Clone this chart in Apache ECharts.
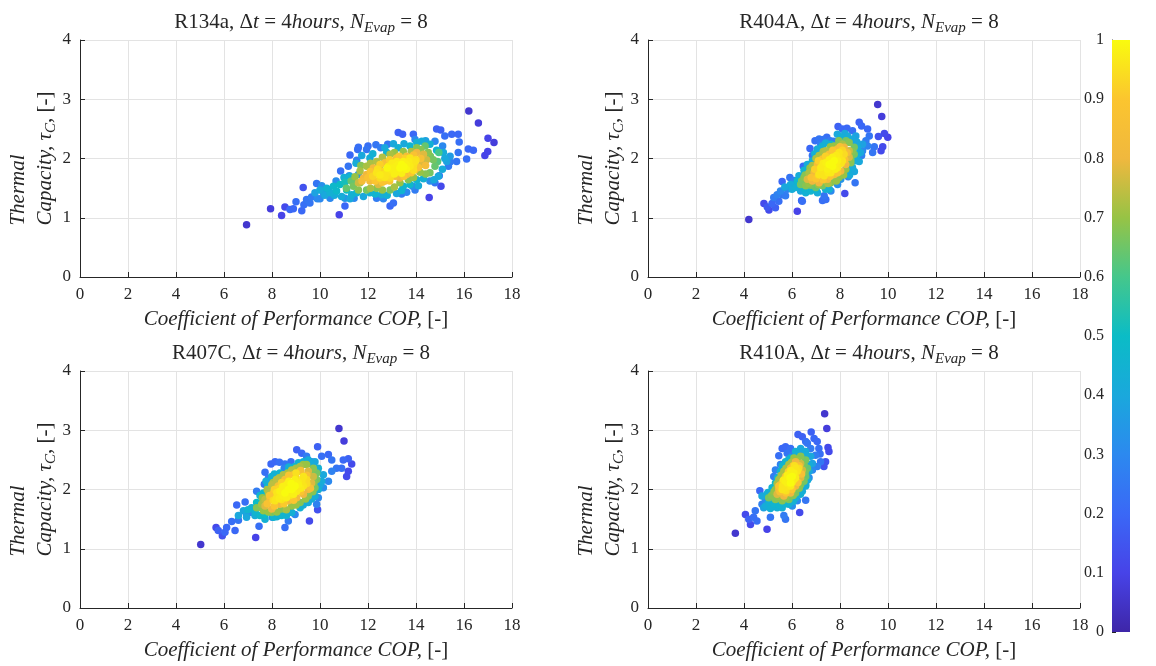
<!DOCTYPE html>
<html>
<head>
<meta charset="utf-8">
<title>COP vs thermal capacity</title>
<script src="https://cdn.jsdelivr.net/npm/echarts@6/dist/echarts.min.js"></script>
<style>
  html, body { margin: 0; padding: 0; background: #fff; }
  #chart { width: 1156px; height: 666px; }
</style>
</head>
<body>
<div id="chart"></div>
<script>
// [COP, tau_C, normalised density]
const r134a = [
  [6.94,0.88,0.06],[7.94,1.15,0.08],[8.40,1.04,0.1],[8.54,1.18,0.12],[10.80,1.05,0.1],[16.20,2.80,0.06],
  [16.60,2.60,0.08],[14.55,1.34,0.1],[15.04,1.53,0.12],[17.25,2.27,0.08],[17.00,2.34,0.1],[16.87,2.05,0.1],
  [16.99,2.12,0.1],[9.30,1.51,0.14],
  [8.75,1.14,0.2],[8.89,1.15,0.2],[9.00,1.27,0.22],[9.24,1.12,0.2],[9.33,1.22,0.22],[9.44,1.31,0.24],
  [9.58,1.25,0.24],[9.65,1.35,0.26],[9.86,1.58,0.24],[11.04,1.20,0.2],[11.18,1.87,0.24],[11.25,2.06,0.2],
  [11.57,2.15,0.22],[11.60,2.19,0.22],[11.94,2.15,0.24],[12.00,2.21,0.22],[12.33,2.23,0.24],[12.53,2.18,0.26],
  [12.82,2.24,0.24],[13.26,2.44,0.18],[13.44,2.41,0.18],[13.89,2.41,0.2],[14.86,2.50,0.18],[15.03,2.48,0.18],
  [15.20,2.38,0.22],[15.49,2.41,0.2],[15.76,2.41,0.2],[15.80,2.28,0.22],[16.18,2.16,0.2],[16.39,2.14,0.2],
  [16.11,1.99,0.22],[15.76,2.10,0.24],[15.69,1.95,0.24],[15.42,1.94,0.26],[15.35,1.87,0.26],[14.97,1.71,0.26],
  [14.79,1.59,0.24],[13.96,1.47,0.26],[13.40,1.40,0.26],[12.92,1.20,0.2],[13.06,1.25,0.22],[12.36,1.33,0.26],
  [11.42,1.33,0.3],[10.86,1.79,0.22],[11.53,1.97,0.26],
  [9.89,1.32,0.3],[10.00,1.32,0.3],[10.07,1.54,0.32],[10.14,1.42,0.34],[10.35,1.46,0.36],[10.42,1.33,0.3],
  [10.67,1.62,0.32],[13.96,2.32,0.3],[15.28,1.98,0.3],[15.11,2.21,0.3],[14.79,2.29,0.3],[14.58,1.62,0.32],
  [13.86,1.53,0.32],[13.61,1.43,0.3],[12.64,1.32,0.3],[11.04,1.33,0.34],[11.22,1.71,0.32],[11.60,1.73,0.34],
  [9.79,1.42,0.38],[10.00,1.47,0.42],[10.28,1.50,0.46],[10.42,1.42,0.44],[10.56,1.53,0.48],[10.69,1.45,0.48],
  [10.90,1.36,0.42],[11.11,1.47,0.5],[11.32,1.39,0.44],[11.53,1.42,0.46],[11.81,1.36,0.4],[12.08,1.42,0.44],
  [12.57,1.39,0.42],[13.19,1.41,0.4],[13.47,1.53,0.46],[13.75,1.56,0.48],[14.03,1.64,0.46],[14.31,1.66,0.44],
  [14.75,1.64,0.4],[14.93,1.70,0.4],[15.28,1.95,0.38],[15.42,2.04,0.36],[15.14,2.10,0.42],[14.86,2.14,0.46],
  [14.58,2.24,0.44],[14.24,2.29,0.42],[14.03,2.27,0.44],[13.75,2.21,0.46],[13.26,2.18,0.44],[13.06,2.25,0.4],
  [12.78,2.10,0.46],[12.08,2.01,0.42],[11.74,2.05,0.4],[11.25,1.69,0.46],[11.39,1.64,0.5],[10.83,1.56,0.5],
  [11.04,1.60,0.52],
  [10.20,1.38,0.4],[10.60,1.38,0.42],[11.25,1.32,0.4],[12.30,1.40,0.46],[12.80,1.38,0.44],[13.40,1.46,0.46],
  [14.10,1.54,0.42],[15.10,1.82,0.42],[15.20,2.00,0.4],[14.40,2.30,0.38],[13.50,2.25,0.4],[12.70,2.18,0.4],
  [12.20,2.08,0.44],[11.50,1.92,0.42],[11.00,1.68,0.44],
  [11.39,1.53,0.66],[11.67,1.59,0.7],[11.94,1.47,0.66],[12.36,1.50,0.68],[12.92,1.47,0.66],[13.33,1.59,0.7],
  [13.68,1.64,0.68],[14.17,1.77,0.7],[14.58,1.76,0.66],[14.79,1.87,0.64],[14.72,1.98,0.66],[14.51,2.10,0.68],
  [14.38,2.21,0.64],[14.03,2.18,0.68],[13.47,2.12,0.7],[12.92,2.07,0.72],[12.36,1.95,0.73],[11.94,1.87,0.72],
  [11.67,1.79,0.72],[11.46,1.69,0.7],[12.50,1.87,0.74],
  [11.10,1.50,0.64],[11.60,1.47,0.68],[12.10,1.50,0.72],[12.60,1.47,0.7],[13.10,1.52,0.72],[13.90,1.68,0.7],
  [14.40,1.74,0.68],[14.90,1.95,0.62],[14.60,2.04,0.66],[14.20,2.15,0.68],[13.80,2.12,0.72],[13.10,2.10,0.7],
  [12.60,2.02,0.73],[12.10,1.92,0.72],[11.70,1.88,0.68],[11.30,1.62,0.64],[14.95,2.10,0.6],
  [11.60,1.59,0.76],[11.81,1.67,0.8],[12.08,1.62,0.82],[12.22,1.73,0.84],[12.43,1.56,0.78],[12.71,1.62,0.82],
  [12.78,1.79,0.86],[13.13,1.70,0.84],[13.33,1.67,0.8],[13.61,1.73,0.82],[13.96,1.81,0.8],[14.24,1.90,0.78],
  [14.44,1.98,0.76],[14.31,2.07,0.78],[14.03,2.10,0.8],[13.61,2.04,0.84],[13.19,2.01,0.86],[12.71,1.93,0.86],
  [12.22,1.84,0.82],[11.94,1.73,0.8],
  [12.00,1.68,0.88],[12.30,1.62,0.9],[12.60,1.60,0.89],[12.90,1.62,0.9],[13.50,1.70,0.9],[13.80,1.76,0.9],
  [14.10,1.85,0.88],[14.20,2.00,0.86],[13.90,2.06,0.88],[13.30,2.04,0.9],[12.90,1.98,0.92],[12.50,1.90,0.92],
  [12.10,1.78,0.9],[11.75,1.62,0.84],[14.40,1.88,0.84],
  [12.36,1.76,0.96],[12.64,1.73,0.96],[12.85,1.87,0.97],[13.06,1.81,0.98],[13.26,1.90,0.98],[13.47,1.81,0.97],
  [13.75,1.87,0.97],[13.96,1.95,0.96],[13.75,2.01,0.96],[13.47,1.95,0.98],[12.50,1.67,0.94],[12.92,1.67,0.94],
  [13.19,1.87,0.98],[13.40,1.90,1.0],[13.61,1.90,0.98],[13.82,1.93,0.96],[13.13,1.79,0.98],[13.33,1.84,1.0],
  [12.99,1.84,0.98],[12.78,1.76,0.96],
  [13.00,1.80,0.97],[13.50,1.86,1.0],[13.70,1.95,0.97],[12.90,1.72,0.95],[13.30,1.78,0.97],[13.90,1.88,0.95],
  [12.60,1.78,0.93],[13.55,2.00,0.92],
  [12.50,1.72,0.97],[12.70,1.68,0.96],[13.10,1.74,0.98],[13.40,1.75,0.98],[13.20,1.95,0.97],[13.00,1.92,0.97],
  [12.80,1.84,0.99],[13.60,1.82,0.99],[14.00,1.98,0.95],[13.90,1.80,0.95],[12.40,1.82,0.95],[12.20,1.70,0.93]
];

const r404a = [
  [4.20,0.97,0.06],[9.57,2.91,0.06],[9.74,2.71,0.08],[4.83,1.24,0.12],[5.04,1.13,0.12],[6.22,1.11,0.1],
  [8.20,1.41,0.12],[9.85,2.42,0.12],[9.99,2.36,0.1],[9.78,2.20,0.12],[9.71,2.13,0.12],[9.60,2.37,0.14],
  [5.17,1.24,0.2],[5.31,1.17,0.18],[4.97,1.18,0.16],[5.45,1.28,0.22],[5.59,1.61,0.2],[5.59,1.39,0.24],
  [5.73,1.37,0.26],[5.80,1.48,0.28],[5.91,1.68,0.24],[6.08,1.63,0.28],[6.40,1.29,0.2],[6.47,1.87,0.2],
  [6.75,2.17,0.2],[6.85,2.05,0.24],[6.96,2.30,0.22],[7.13,2.33,0.24],[7.31,2.32,0.24],[7.45,2.36,0.22],
  [7.59,2.30,0.26],[7.20,2.24,0.26],[7.73,2.29,0.26],[7.92,2.54,0.18],[8.10,2.50,0.2],[8.29,2.51,0.2],
  [8.52,2.47,0.22],[8.80,2.61,0.18],[8.90,2.55,0.2],[9.15,2.50,0.2],[9.22,2.38,0.24],[9.08,2.30,0.26],
  [9.43,2.20,0.24],[9.36,2.10,0.24],[9.15,2.21,0.28],[8.94,2.13,0.3],[8.90,2.05,0.28],[8.59,2.30,0.3],
  [8.63,1.59,0.24],[7.62,1.45,0.3],[7.34,1.37,0.24],[7.41,1.31,0.22],[7.27,1.29,0.22],[6.43,1.28,0.22],
  [7.90,1.56,0.32],[8.03,1.65,0.34],[8.34,1.69,0.3],[8.10,1.73,0.36],[5.38,1.39,0.28],[5.52,1.45,0.3],
  [5.24,1.34,0.26],
  [5.94,1.56,0.42],[6.15,1.51,0.44],[6.29,1.71,0.42],[6.36,1.45,0.4],[6.57,1.42,0.44],[6.78,1.45,0.46],
  [7.06,1.42,0.42],[7.55,1.48,0.44],[7.82,1.65,0.46],[8.31,1.79,0.44],[8.52,1.85,0.42],[8.66,1.96,0.42],
  [8.73,2.07,0.44],[8.73,2.19,0.42],[8.52,2.33,0.4],[8.31,2.38,0.42],[8.03,2.36,0.44],[7.89,2.41,0.4],
  [7.62,2.24,0.46],[7.27,2.21,0.44],[7.06,2.16,0.42],[6.85,1.96,0.44],[6.64,1.90,0.42],[6.64,1.79,0.46],
  [6.43,1.59,0.5],[6.22,1.62,0.48],[8.94,2.24,0.38],[8.66,2.38,0.38],
  [5.70,1.52,0.4],[6.00,1.48,0.42],[6.50,1.50,0.46],[7.00,1.48,0.46],[7.40,1.48,0.44],[8.40,1.72,0.42],
  [8.60,1.78,0.4],[8.80,1.95,0.4],[8.85,2.10,0.4],[8.70,2.28,0.4],[8.20,2.42,0.4],[7.40,2.26,0.42],
  [6.95,2.08,0.44],[6.50,1.80,0.46],
  [6.36,1.56,0.66],[6.57,1.54,0.68],[6.78,1.55,0.66],[6.99,1.51,0.64],[7.27,1.54,0.66],[7.62,1.59,0.68],
  [7.96,1.68,0.68],[8.24,1.82,0.7],[8.45,1.93,0.68],[8.59,2.07,0.66],[8.59,2.19,0.66],[8.38,2.27,0.68],
  [8.10,2.24,0.72],[7.76,2.21,0.7],[7.41,2.13,0.73],[7.13,2.05,0.72],[6.85,1.88,0.72],[6.71,1.76,0.72],
  [6.50,1.68,0.68],
  [6.40,1.62,0.66],[6.70,1.58,0.7],[7.10,1.56,0.7],[7.50,1.58,0.72],[7.85,1.62,0.7],[8.15,1.72,0.7],
  [8.45,1.98,0.68],[8.50,2.12,0.68],[8.25,2.30,0.66],[7.95,2.30,0.68],[7.60,2.20,0.7],[7.30,2.12,0.72],
  [7.00,2.00,0.72],[6.75,1.84,0.7],[6.55,1.72,0.68],
  [6.64,1.65,0.78],[6.85,1.62,0.8],[7.13,1.59,0.8],[7.48,1.65,0.82],[7.76,1.73,0.84],[8.03,1.79,0.82],
  [8.24,1.90,0.8],[8.38,2.02,0.78],[8.38,2.13,0.76],[8.17,2.19,0.8],[7.89,2.16,0.84],[7.55,2.07,0.86],
  [7.27,1.99,0.86],[7.06,1.90,0.84],[6.92,1.76,0.82],
  [6.80,1.68,0.88],[7.00,1.66,0.9],[7.30,1.64,0.9],[7.60,1.70,0.9],[7.90,1.76,0.9],[8.20,1.98,0.88],
  [8.00,2.20,0.86],[7.70,2.14,0.9],[7.40,2.04,0.92],[7.10,1.96,0.92],[6.95,1.82,0.92],[8.30,2.10,0.84],
  [7.13,1.73,0.96],[7.34,1.71,0.96],[7.62,1.76,0.97],[7.90,1.85,0.97],[8.10,1.96,0.96],[8.17,2.07,0.94],
  [7.96,2.10,0.96],[7.69,2.02,0.98],[7.41,1.93,0.98],[7.20,1.85,0.97],
  [7.48,1.82,0.98],[7.69,1.87,1.0],[7.90,1.96,0.98],[7.96,2.02,0.96],[7.55,1.90,1.0],[7.34,1.79,0.96],
  [7.76,1.96,1.0],
  [7.60,1.84,0.97],[7.80,1.92,0.98],[7.40,1.86,0.96],[7.70,1.99,0.95],[7.30,1.74,0.93],[8.00,2.06,0.93],
  [7.20,1.80,0.96],[7.50,1.76,0.97],[7.80,1.82,0.98],[8.05,1.92,0.96],[7.85,2.05,0.97],[7.55,1.98,0.98],
  [7.30,1.92,0.97],[7.65,1.92,1.0],[7.10,1.72,0.93],[8.10,2.14,0.93]
];

const r407c = [
  [5.03,1.07,0.06],[10.79,3.03,0.06],[11.00,2.82,0.08],[7.32,1.19,0.1],[9.56,1.47,0.12],[9.90,1.66,0.14],
  [11.32,2.43,0.12],[11.11,2.22,0.12],[11.18,2.31,0.12],[5.67,1.36,0.12],[5.93,1.22,0.14],
  [6.11,1.36,0.2],[6.32,1.46,0.22],[6.46,1.31,0.2],[6.53,1.74,0.2],[6.60,1.48,0.24],[6.88,1.79,0.22],
  [6.94,1.58,0.28],[7.08,1.61,0.3],[7.46,1.38,0.22],[7.71,2.29,0.22],[7.68,2.09,0.24],[7.85,2.19,0.26],
  [7.96,2.43,0.2],[8.13,2.47,0.2],[8.31,2.46,0.22],[8.54,2.43,0.24],[8.79,2.47,0.22],[8.51,2.36,0.28],
  [9.03,2.67,0.18],[9.24,2.61,0.2],[9.90,2.72,0.18],[10.07,2.56,0.22],[10.35,2.59,0.2],[10.49,2.50,0.24],
  [10.69,2.36,0.24],[10.90,2.36,0.22],[10.97,2.50,0.2],[11.18,2.52,0.18],[10.49,2.31,0.28],[10.35,2.14,0.3],
  [10.14,2.03,0.32],[8.54,1.36,0.22],[8.68,1.47,0.26],[8.96,1.58,0.3],[8.01,1.53,0.3],[7.57,1.89,0.28],
  [7.36,1.97,0.26],[9.65,2.47,0.28],[9.44,2.56,0.26],[9.93,1.86,0.3],[9.86,1.75,0.28],[5.76,1.31,0.18],
  [6.04,1.28,0.2],
  [6.81,1.64,0.4],[7.15,1.69,0.44],[7.29,1.56,0.42],[7.71,1.50,0.44],[8.06,1.53,0.46],[8.40,1.56,0.46],
  [8.82,1.61,0.44],[9.17,1.69,0.44],[9.51,1.78,0.42],[9.79,1.89,0.42],[9.93,2.00,0.44],[10.07,2.14,0.42],
  [10.14,2.25,0.4],[9.93,2.36,0.44],[9.79,2.47,0.4],[9.51,2.50,0.42],[9.31,2.47,0.44],[8.96,2.39,0.46],
  [8.68,2.31,0.48],[8.33,2.28,0.46],[7.99,2.22,0.44],[7.82,2.06,0.46],[7.64,1.94,0.48],[7.36,1.78,0.5],
  [6.94,1.53,0.4],[7.71,1.58,0.5],
  [6.60,1.56,0.4],[7.00,1.66,0.46],[7.30,1.62,0.46],[7.50,1.56,0.48],[8.20,1.54,0.44],[8.60,1.56,0.44],
  [9.30,1.74,0.42],[9.65,1.84,0.42],[10.00,2.08,0.4],[9.90,2.30,0.42],[9.60,2.44,0.42],[9.10,2.45,0.44],
  [8.70,2.38,0.44],[8.10,2.26,0.44],[7.75,2.14,0.42],[7.50,1.90,0.46],
  [7.36,1.69,0.68],[7.57,1.75,0.72],[7.64,1.64,0.7],[7.99,1.61,0.66],[8.40,1.67,0.68],[8.82,1.72,0.7],
  [9.17,1.78,0.68],[9.51,1.89,0.68],[9.79,2.03,0.66],[9.86,2.17,0.66],[9.86,2.28,0.66],[9.72,2.36,0.68],
  [9.44,2.42,0.7],[9.17,2.39,0.72],[8.82,2.33,0.73],[8.47,2.25,0.73],[8.19,2.17,0.74],[7.99,2.08,0.74],
  [7.85,1.94,0.73],[7.71,1.83,0.74],
  [7.50,1.70,0.68],[7.85,1.62,0.7],[8.20,1.62,0.7],[8.60,1.66,0.72],[9.00,1.74,0.7],[9.40,1.84,0.7],
  [9.70,1.96,0.68],[9.75,2.12,0.68],[9.65,2.30,0.66],[9.30,2.42,0.7],[9.00,2.36,0.72],[8.65,2.28,0.72],
  [8.30,2.20,0.73],[8.05,2.12,0.72],[7.80,2.00,0.72],[7.60,1.86,0.7],
  [7.71,1.72,0.78],[7.99,1.67,0.8],[8.33,1.75,0.82],[8.68,1.81,0.82],[9.03,1.86,0.82],[9.31,1.92,0.8],
  [9.51,2.00,0.8],[9.65,2.11,0.78],[9.72,2.22,0.76],[9.51,2.31,0.78],[9.17,2.31,0.82],[8.89,2.25,0.84],
  [8.54,2.17,0.86],[8.26,2.06,0.86],[8.06,1.94,0.86],[7.92,1.83,0.84],
  [7.80,1.76,0.88],[8.10,1.72,0.9],[8.50,1.76,0.91],[8.90,1.82,0.9],[9.20,1.96,0.9],[9.45,2.24,0.86],
  [9.20,2.32,0.86],[8.70,2.24,0.9],[8.40,2.12,0.92],[8.10,2.00,0.92],[7.90,1.90,0.9],[9.60,2.02,0.86],
  [8.13,1.81,0.96],[8.40,1.83,0.96],[8.68,1.92,0.98],[9.03,1.97,0.97],[9.31,2.06,0.96],[9.44,2.17,0.94],
  [9.31,2.22,0.96],[8.96,2.17,0.98],[8.61,2.08,0.98],[8.33,1.97,0.98],
  [8.47,1.89,0.98],[8.82,2.00,1.0],[9.10,2.08,0.98],[9.24,2.14,0.96],[8.68,2.00,1.0],[8.54,1.94,1.0],
  [8.96,2.06,1.0],[8.19,1.86,0.96],
  [8.60,1.96,0.98],[8.90,2.04,1.0],[9.10,2.12,0.97],[8.40,1.92,0.96],[8.75,1.90,0.95],[9.00,2.20,0.93],
  [8.30,2.02,0.93],
  [8.30,1.85,0.97],[8.60,1.86,0.98],[8.90,1.92,0.98],[9.20,2.02,0.97],[9.30,2.20,0.95],[9.00,2.28,0.95],
  [8.70,2.14,0.98],[8.45,2.05,0.98],[8.20,1.95,0.96],[8.05,1.82,0.94],[9.45,2.10,0.94],[8.80,2.10,1.0]
];

const r410a = [
  [3.64,1.26,0.06],[7.36,3.28,0.06],[7.45,3.03,0.08],[4.96,1.33,0.1],[6.32,1.61,0.12],[4.06,1.58,0.12],
  [4.27,1.41,0.12],[7.50,2.71,0.12],[7.54,2.64,0.12],[7.40,2.47,0.14],[7.33,2.39,0.14],
  [4.20,1.50,0.18],[4.40,1.53,0.22],[4.47,1.64,0.24],[4.54,1.47,0.22],[4.66,1.98,0.2],[4.75,1.75,0.28],
  [4.89,1.83,0.3],[5.10,1.53,0.24],[5.24,2.22,0.26],[5.45,2.57,0.22],[5.59,2.69,0.2],[5.73,2.72,0.2],
  [5.94,2.69,0.22],[5.80,2.61,0.24],[6.01,2.58,0.26],[6.25,2.93,0.18],[6.43,2.89,0.18],[6.80,2.97,0.18],
  [6.92,2.86,0.2],[7.05,2.81,0.2],[7.12,2.69,0.22],[6.98,2.58,0.26],[7.17,2.60,0.22],[7.19,2.47,0.24],
  [7.05,2.39,0.28],[6.85,2.33,0.3],[6.71,2.20,0.32],[6.57,2.08,0.32],[6.57,1.82,0.24],[6.22,1.81,0.3],
  [6.01,1.72,0.32],[5.73,1.50,0.24],[5.66,1.56,0.26],[5.10,1.69,0.3],[5.52,2.42,0.28],[5.31,2.33,0.28],
  [6.64,2.78,0.24],[6.57,2.81,0.22],[6.47,2.64,0.3],[6.78,2.69,0.26],
  [4.75,1.89,0.4],[4.96,1.92,0.44],[4.82,1.69,0.38],[5.03,1.78,0.44],[5.24,1.75,0.46],[5.38,1.69,0.44],
  [5.59,1.69,0.44],[5.87,1.75,0.44],[6.15,1.86,0.42],[6.43,1.97,0.42],[6.57,2.06,0.42],[6.71,2.31,0.4],
  [6.85,2.44,0.38],[6.78,2.56,0.4],[6.57,2.64,0.42],[6.36,2.69,0.4],[6.15,2.64,0.44],[5.94,2.53,0.46],
  [5.73,2.47,0.46],[5.52,2.31,0.46],[5.31,2.11,0.48],[5.17,2.03,0.46],
  [4.90,1.72,0.42],[5.10,1.68,0.44],[5.45,1.74,0.46],[5.75,1.76,0.46],[6.05,1.80,0.44],[6.35,1.92,0.44],
  [6.65,2.16,0.42],[6.72,2.42,0.42],[6.55,2.58,0.42],[6.20,2.60,0.44],[5.85,2.50,0.46],[5.60,2.40,0.46],
  [5.40,2.20,0.46],[5.00,1.95,0.44],
  [5.03,1.86,0.66],[5.31,1.83,0.68],[5.59,1.81,0.68],[5.87,1.83,0.66],[6.15,1.94,0.66],[6.36,2.08,0.66],
  [6.57,2.22,0.64],[6.64,2.36,0.64],[6.57,2.50,0.66],[6.36,2.56,0.68],[6.08,2.53,0.7],[5.87,2.42,0.72],
  [5.66,2.31,0.72],[5.45,2.17,0.72],[5.31,2.00,0.7],
  [5.15,1.90,0.68],[5.45,1.88,0.7],[5.75,1.86,0.7],[6.05,1.90,0.68],[6.30,2.02,0.68],[6.50,2.14,0.66],
  [6.55,2.30,0.66],[6.50,2.42,0.66],[6.20,2.50,0.7],[5.98,2.46,0.72],[5.75,2.36,0.72],[5.55,2.24,0.72],
  [5.38,2.10,0.72],[5.25,1.96,0.7],
  [5.38,1.92,0.78],[5.66,1.89,0.8],[5.94,1.94,0.8],[6.15,2.06,0.8],[6.36,2.20,0.78],[6.43,2.33,0.76],
  [6.36,2.44,0.76],[6.15,2.47,0.8],[5.94,2.36,0.84],[5.73,2.22,0.86],[5.52,2.08,0.84],[5.45,2.00,0.82],
  [5.50,1.96,0.88],[5.75,1.94,0.9],[6.00,2.00,0.9],[6.25,2.12,0.9],[6.40,2.26,0.86],[6.30,2.40,0.86],
  [6.05,2.40,0.9],[5.85,2.30,0.92],[5.62,2.14,0.92],[5.45,2.06,0.9],
  [5.73,2.03,0.96],[5.94,2.06,0.97],[6.08,2.17,0.97],[6.22,2.31,0.96],[6.15,2.36,0.96],[5.94,2.28,0.98],
  [5.73,2.14,0.98],[5.59,2.00,0.96],
  [5.87,2.17,0.98],[6.01,2.22,1.0],[6.08,2.28,0.98],[5.80,2.11,0.98],[5.94,2.11,1.0],
  [5.90,2.16,0.98],[6.05,2.26,0.97],[5.80,2.05,0.96],[6.15,2.30,0.94],[5.70,2.08,0.95],
  [5.60,2.06,0.96],[5.75,1.98,0.95],[6.00,2.12,0.98],[6.15,2.20,0.97],[6.28,2.36,0.94],[6.10,2.40,0.95],
  [5.95,2.32,0.97],[5.80,2.24,0.98],[5.65,2.16,0.97],[5.92,2.20,1.0]
];

const panelTitles = ['R134a', 'R404A', 'R407C', 'R410A'];
const panelData = [r134a, r404a, r407c, r410a];
const copTicks = { min: 0, max: 18, interval: 2 };
const tauTicks = { min: 0, max: 4, interval: 1 };
const barTicks = { min: 0, max: 1, interval: 0.1 };

// parula-like colormap sampled from the colour bar
const parula = ['#3e26a8', '#4743e8', '#3a68f6', '#2c89ef', '#1aa8dc', '#0bbcc6',
                '#45c78b', '#97c345', '#f0b83e', '#fbc52f', '#f9fb0e'];

const ink = '#262626';
const serif = 'Liberation Serif';

const chart = echarts.init(document.getElementById('chart'));

const grids = [
  { left: 80, top: 40, width: 432, height: 237 },
  { left: 648, top: 40, width: 432, height: 237 },
  { left: 80, top: 371, width: 432, height: 237 },
  { left: 648, top: 371, width: 432, height: 237 },
  { left: 1112, top: 40, width: 18, height: 592 }
];

function richSet(size, lh, align) {
  const base = { fontFamily: serif, fontSize: size, fontWeight: 'normal', color: ink, lineHeight: lh };
  if (align) base.align = align;
  return {
    r: Object.assign({}, base),
    i: Object.assign({}, base, { fontStyle: 'italic' }),
    s: Object.assign({}, base, { fontSize: Math.round(size * 0.7), fontStyle: 'italic',
                                 lineHeight: Math.round(lh * 0.5), verticalAlign: 'bottom' })
  };
}

const xAxes = [];
const yAxes = [];
const series = [];
const titles = [];

panelData.forEach(function (pts, k) {
  const g = grids[k];
  titles.push({
    text: '{r|' + panelTitles[k] + ', Δ}{i|t}{r| = 4}{i|hours}{r|, }{i|N}{s|Evap}{r| = 8}',
    left: g.left + g.width / 2,
    top: g.top - 36,
    textAlign: 'center',
    textStyle: { fontWeight: 'normal', rich: richSet(21, 27) }
  });
  xAxes.push({
    gridIndex: k, type: 'value', min: copTicks.min, max: copTicks.max, interval: copTicks.interval,
    name: '{i|Coefficient of Performance COP, }{r|[-]}',
    nameLocation: 'middle', nameGap: 30,
    nameTextStyle: { rich: richSet(21, 24) },
    axisLine: { lineStyle: { color: ink, width: 1 } },
    axisTick: { inside: true, length: 5, lineStyle: { color: ink } },
    axisLabel: { fontFamily: serif, fontSize: 17, color: ink, margin: 9 },
    splitLine: { show: true, lineStyle: { color: '#e3e3e3' } }
  });
  yAxes.push({
    gridIndex: k, type: 'value', min: tauTicks.min, max: tauTicks.max, interval: tauTicks.interval,
    name: '{i|Thermal}\n{i|Capacity, τ}{s|C}{r|, [-]}',
    nameLocation: 'middle', nameGap: 16,
    nameTextStyle: { rich: richSet(21, 27, 'left') },
    axisLine: { show: true, lineStyle: { color: ink, width: 1 } },
    axisTick: { show: true, inside: true, length: 5, lineStyle: { color: ink } },
    axisLabel: { fontFamily: serif, fontSize: 17, color: ink, margin: 9 },
    splitLine: { show: true, lineStyle: { color: '#e3e3e3' } }
  });
  series.push({
    type: 'scatter',
    xAxisIndex: k, yAxisIndex: k,
    symbol: 'circle', symbolSize: 7.5,
    data: pts.slice().sort(function (a, b) { return a[2] - b[2]; }),
    itemStyle: { opacity: 1 },
    emphasis: { disabled: true }
  });
});

// colour bar
xAxes.push({ gridIndex: 4, type: 'category', data: [''], show: false });
yAxes.push({
  gridIndex: 4, type: 'value', position: 'left',
  min: barTicks.min, max: barTicks.max, interval: barTicks.interval,
  axisLine: { show: true, lineStyle: { color: ink, width: 1 } },
  axisTick: { show: true, inside: true, length: 4, lineStyle: { color: ink } },
  axisLabel: { fontFamily: serif, fontSize: 16, color: ink, margin: 8 },
  splitLine: { show: false }
});
series.push({
  type: 'bar', xAxisIndex: 4, yAxisIndex: 4,
  data: [barTicks.max], barWidth: '100%', silent: true,
  itemStyle: {
    color: new echarts.graphic.LinearGradient(0, 1, 0, 0,
      parula.map(function (c, i) { return { offset: i / (parula.length - 1), color: c }; }))
  }
});

chart.setOption({
  animation: false,
  backgroundColor: '#ffffff',
  title: titles,
  grid: grids,
  xAxis: xAxes,
  yAxis: yAxes,
  visualMap: {
    type: 'continuous', show: false, min: 0, max: 1, dimension: 2,
    seriesIndex: [0, 1, 2, 3],
    inRange: { color: parula }
  },
  series: series
});
</script>
</body>
</html>
